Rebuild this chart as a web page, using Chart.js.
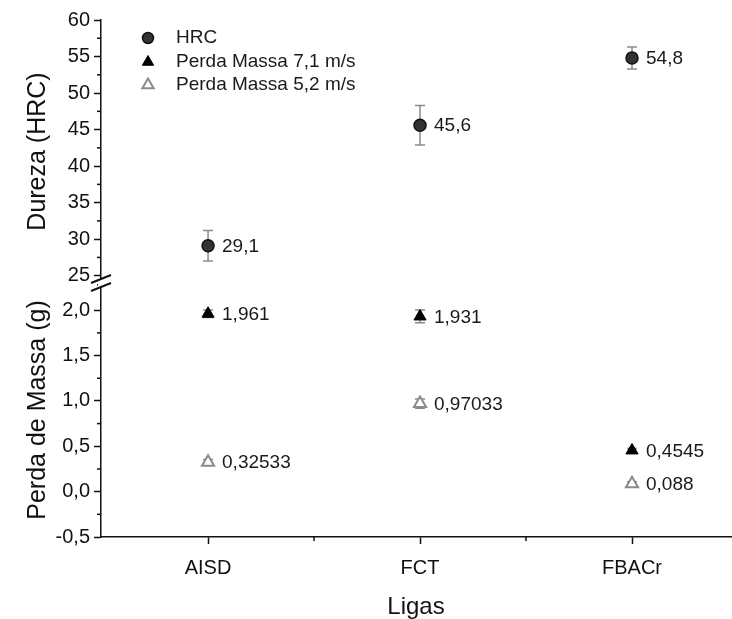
<!DOCTYPE html>
<html>
<head>
<meta charset="utf-8">
<script src="https://cdn.jsdelivr.net/npm/chart.js"></script>
<style>
  html, body { margin: 0; padding: 0; background: #fff; }
  #wrap { width: 732px; height: 619px; }
</style>
</head>
<body>
<div id="wrap"><canvas id="grafico"></canvas></div>
<script>
const ligas = ['AISD', 'FCT', 'FBACr']
const hrc = [29.1, 45.6, 54.8]
const hrcErro = [2.1, 2.7, 1.5]
const perda71 = [1.961, 1.931, 0.4545]
const perda71Erro = [0.04, 0.07, 0.02]
const perda52 = [0.32533, 0.97033, 0.088]
const perda52Erro = [0.03, 0.05, 0.02]

const ticksHRC = [25, 30, 35, 40, 45, 50, 55, 60]
const ticksPerda = [-0.5, 0, 0.5, 1.0, 1.5, 2.0]

const fonte = 'Liberation Sans, Arial, sans-serif'
const preto = '#111'

// 29.1 -> "29,1"
const virgula = v => String(v).replace('.', ',')

function pontos(valores) {
    return valores.map((v, i) => ({x: i, y: v}))
}

// barras de erro, labels dos pontos, legenda e o corte do eixo
const extras = {
    id: 'extras',
    beforeDatasetsDraw(chart) {
        const ctx = chart.ctx
        ctx.save()
        ctx.strokeStyle = '#8a8a8a'
        ctx.lineWidth = 1.5
        chart.data.datasets.forEach((ds, d) => {
            const meta = chart.getDatasetMeta(d)
            const ys = chart.scales[ds.yAxisID]
            meta.data.forEach((pt, i) => {
                const e = ds.erro[i]
                const v = ds.data[i].y
                const y1 = ys.getPixelForValue(v + e)
                const y2 = ys.getPixelForValue(v - e)
                ctx.beginPath()
                ctx.moveTo(pt.x, y1); ctx.lineTo(pt.x, y2)
                ctx.moveTo(pt.x - 5, y1); ctx.lineTo(pt.x + 5, y1)
                ctx.moveTo(pt.x - 5, y2); ctx.lineTo(pt.x + 5, y2)
                ctx.stroke()
            })
        })
        ctx.restore()
    },
    afterDatasetsDraw(chart) {
        const ctx = chart.ctx
        ctx.save()
        ctx.fillStyle = '#1a1a1a'
        ctx.font = '19px ' + fonte
        ctx.textBaseline = 'middle'
        chart.data.datasets.forEach((ds, d) => {
            chart.getDatasetMeta(d).data.forEach((pt, i) => {
                ctx.fillText(virgula(ds.data[i].y), pt.x + 14, pt.y + 1)
            })
        })
        ctx.restore()
    },
    afterDraw(chart) {
        const ctx = chart.ctx
        const area = chart.chartArea
        ctx.save()

        // minor ticks
        ctx.strokeStyle = preto
        ctx.lineWidth = 1.5
        const menores = (scale, maiores, vertical) => {
            for (let k = 0; k < maiores.length - 1; k++) {
                const m = (maiores[k] + maiores[k + 1]) / 2
                const p = scale.getPixelForValue(m)
                ctx.beginPath()
                if (vertical) { ctx.moveTo(area.left - 4, p); ctx.lineTo(area.left, p) }
                else { ctx.moveTo(p, area.bottom); ctx.lineTo(p, area.bottom + 4) }
                ctx.stroke()
            }
        }
        menores(chart.scales.yHRC, [22.5].concat(ticksHRC), true)
        menores(chart.scales.yPerda, ticksPerda, true)
        menores(chart.scales.x, [0, 1, 2], false)

        // corte do eixo y
        const b = chart.scales.yHRC.bottom
        const x = area.left
        ctx.fillStyle = '#fff'
        ctx.fillRect(x - 3, b - 4, 6, 8)
        ctx.lineWidth = 2
        ;[-4, 4].forEach(dy => {
            ctx.beginPath()
            ctx.moveTo(x - 10, b + dy + 4)
            ctx.lineTo(x + 10, b + dy - 4)
            ctx.stroke()
        })

        // legenda
        const linhas = [38, 62, 85]
        ctx.font = '19px ' + fonte
        ctx.textBaseline = 'middle'
        chart.data.datasets.forEach((ds, d) => {
            const y = linhas[d]
            ctx.fillStyle = ds.backgroundColor
            ctx.strokeStyle = ds.borderColor
            ctx.lineWidth = ds.borderWidth
            Chart.helpers.drawPoint(ctx, {pointStyle: ds.pointStyle, radius: ds.pointRadius - 0.5, borderWidth: ds.borderWidth, rotation: 0}, 148, y)
            ctx.fillStyle = '#1a1a1a'
            ctx.fillText(ds.label, 176, y)
        })
        ctx.restore()
    }
}

const eixoY = (titulo, ticks, fmt, peso, min, max) => ({
    type: 'linear',
    position: 'left',
    stack: 'eixoY',
    stackWeight: peso,
    min: min,
    max: max,
    afterBuildTicks: s => { s.ticks = ticks.map(v => ({value: v})) },
    afterFit: s => { s.width = 101 },
    grid: {drawOnChartArea: false, tickLength: 7, tickWidth: 1.5, tickColor: preto},
    border: {color: preto, width: 1.5},
    ticks: {color: preto, font: {size: 20, family: fonte}, padding: 4, autoSkip: false, callback: fmt},
    title: {display: true, text: titulo, color: preto, font: {size: 25, family: fonte}, padding: {top: 23, bottom: 0}}
})

const config = {
    type: 'scatter',
    data: {
        datasets: [{
            label: 'HRC',
            data: pontos(hrc),
            erro: hrcErro,
            yAxisID: 'yHRC',
            pointStyle: 'circle',
            pointRadius: 6,
            backgroundColor: '#333',
            borderColor: '#111',
            borderWidth: 1.5
        }, {
            label: 'Perda Massa 7,1 m/s',
            data: pontos(perda71),
            erro: perda71Erro,
            yAxisID: 'yPerda',
            pointStyle: 'triangle',
            pointRadius: 7,
            backgroundColor: '#000',
            borderColor: '#000',
            borderWidth: 1
        }, {
            label: 'Perda Massa 5,2 m/s',
            data: pontos(perda52),
            erro: perda52Erro,
            yAxisID: 'yPerda',
            pointStyle: 'triangle',
            pointRadius: 7,
            backgroundColor: '#fff',
            borderColor: '#8a8a8a',
            borderWidth: 2
        }]
    },
    options: {
        responsive: true,
        maintainAspectRatio: false,
        animation: false,
        layout: {autoPadding: false, padding: {top: 20, right: 1, left: 0, bottom: 0}},
        plugins: {legend: {display: false}, tooltip: {enabled: false}},
        scales: {
            x: {
                type: 'linear',
                min: -0.505,
                max: 2.467,
                afterBuildTicks: s => { s.ticks = ligas.map((_, i) => ({value: i})) },
                afterFit: s => { s.height = 82; s.paddingLeft = 0; s.paddingRight = 0 },
                grid: {drawOnChartArea: false, tickLength: 7, tickWidth: 1.5, tickColor: preto},
                border: {color: preto, width: 1.5},
                ticks: {color: preto, font: {size: 20, family: fonte}, padding: 12, callback: v => ligas[v] ?? ''},
                title: {display: true, text: 'Ligas', color: preto, font: {size: 24, family: fonte, lineHeight: 1.0}, padding: {top: 0, bottom: 0}}
            },
            yPerda: eixoY('Perda de Massa (g)', ticksPerda, v => v.toFixed(1).replace('.', ','), 254, -0.5, 2.3),
            yHRC: eixoY('Dureza (HRC)', ticksHRC, v => String(v), 263, 24, 60)
        }
    },
    plugins: [extras]
}

const grafico = new Chart(document.getElementById('grafico'), config)
</script>
</body>
</html>
